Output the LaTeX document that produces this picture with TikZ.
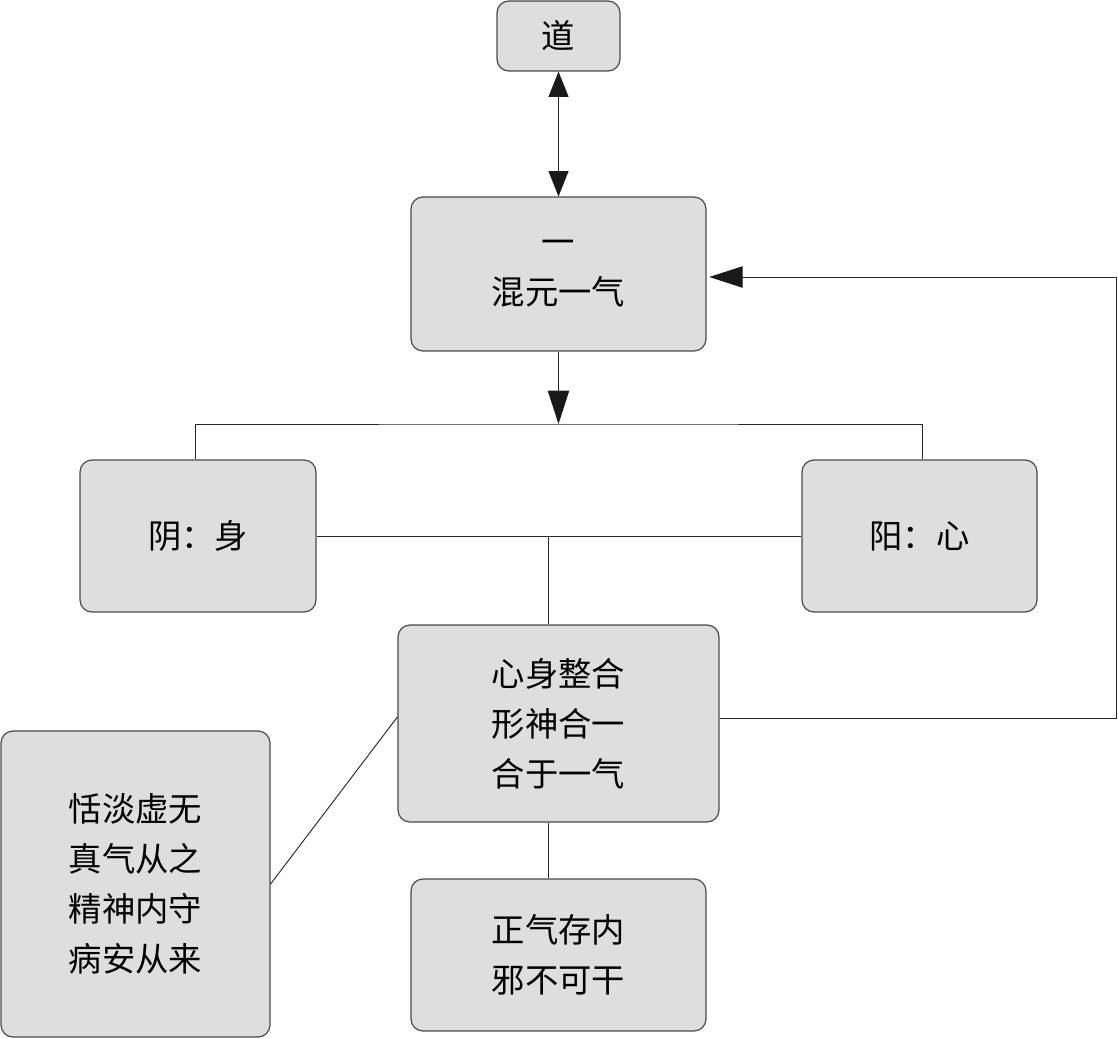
\documentclass[tikz,border=0pt]{standalone}
\usepackage{fontspec}
\newfontfamily\cjk{Noto Sans CJK SC}
\usetikzlibrary{arrows.meta}
\definecolor{boxfill}{HTML}{DEDEDE}
\definecolor{boxline}{HTML}{4A4A4A}
\begin{document}
\begin{tikzpicture}[x=0.75pt,y=-0.75pt,
  box/.style={draw=boxline,line width=0.9pt,fill=boxfill,rounded corners=9pt,
    inner sep=0pt,align=center,font=\cjk\fontsize{25}{37.5}\selectfont},
  conn/.style={draw=black!85,line width=0.7pt},
  bigtip/.style={-{Triangle[length=25pt,width=16pt,color=black!90]}},
  smalltip/.style={{Triangle[length=19pt,width=15pt,color=black!90]}-{Triangle[length=19pt,width=15pt,color=black!90]}}]
\useasboundingbox (0,0) rectangle (1118,1039);
\node[box,minimum width=92.25pt,minimum height=52.5pt] (dao) at (558.5,36) {道};
\node[box,minimum width=221.25pt,minimum height=115.5pt] (yi) at (558.5,274) {一\\混元一气};
\node[box,minimum width=177pt,minimum height=114pt] (yin) at (198,536) {阴：身};
\node[box,minimum width=176.25pt,minimum height=114pt] (yang) at (919.5,536) {阳：心};
\node[box,minimum width=240.75pt,minimum height=147.75pt] (he) at (558.5,723.5) {心身整合\\形神合一\\合于一气};
\node[box,minimum width=201.75pt,minimum height=229.5pt] (tian) at (135.5,884) {恬淡虚无\\真气从之\\精神内守\\病安从来};
\node[box,minimum width=221.25pt,minimum height=114pt] (zheng) at (558.5,955) {正气存内\\邪不可干};
\coordinate (fork) at (558.5,424);
\coordinate (mid) at (548,537);
\coordinate (loop) at (1116,0);
\coordinate (forkL) at (195,0);
\coordinate (forkR) at (922,0);
\draw[conn,smalltip] (dao) -- (yi);
\draw[conn,bigtip] (yi) -- (fork);
\draw[conn] (forkL |- yin.north) |- (fork) -| (forkR |- yang.north);
\draw[conn] (yin.east) -- (yang.west);
\draw[conn] (mid) -- (mid |- he.north);
\draw[conn] (he.south -| mid) -- (zheng.north -| mid);
\draw[conn] ([yshift=4.9pt]he.west) -- (tian.east);
\draw[conn,bigtip] ([yshift=4pt]he.east) -| ([yshift=-2.25pt]loop |- yi.east) -- ([xshift=2pt,yshift=-2.25pt]yi.east);
\end{tikzpicture}
\end{document}
